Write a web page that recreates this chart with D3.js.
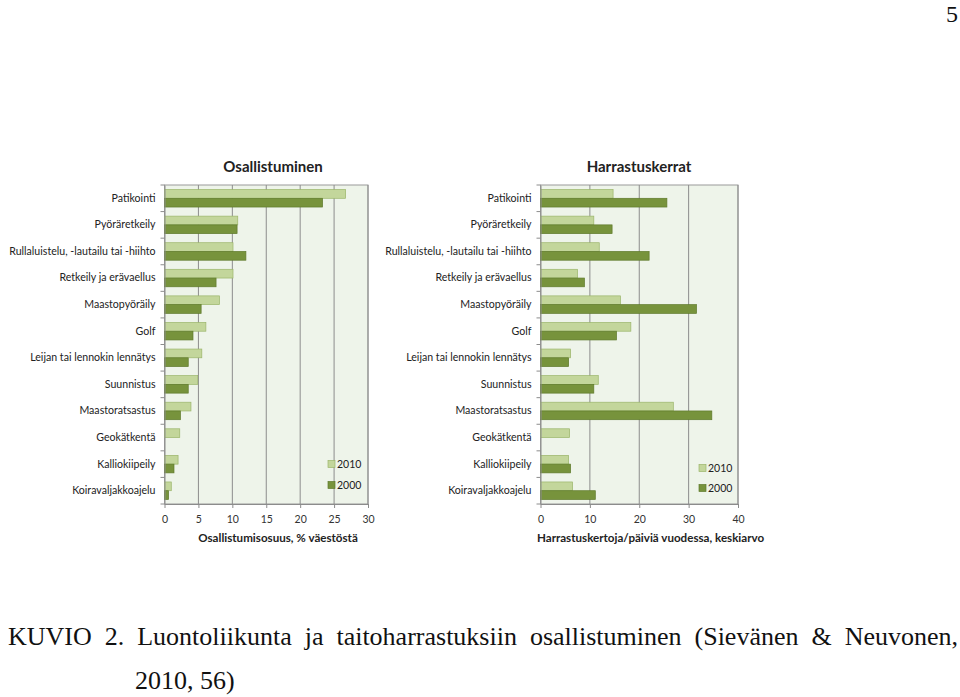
<!DOCTYPE html>
<html><head><meta charset="utf-8">
<script src="https://cdn.jsdelivr.net/npm/d3@7"></script>
<style>body{margin:0;background:#fff}svg{display:block}</style>
</head><body>
<script>
const categories = ["Patikointi","Pyöräretkeily","Rullaluistelu, -lautailu tai -hiihto","Retkeily ja erävaellus","Maastopyöräily","Golf","Leijan tai lennokin lennätys","Suunnistus","Maastoratsastus","Geokätkentä","Kalliokiipeily","Koiravaljakkoajelu"];
const series = ["2010","2000"];
const osallistuminen2010 = [26.7,10.8,10.1,10.1,8.1,6.1,5.5,4.9,3.9,2.25,2.0,1.0];
const osallistuminen2000 = [23.3,10.7,12.0,7.6,5.4,4.2,3.5,3.5,2.35,null,1.4,0.6];
const harrastus2010 = [14.7,10.8,11.9,7.5,16.2,18.3,6.1,11.7,26.9,5.9,5.7,6.5];
const harrastus2000 = [25.6,14.5,22.0,8.9,31.6,15.4,5.7,10.8,34.7,null,6.1,11.1];
const leftTicks = [0,5,10,15,20,25,30];
const rightTicks = [0,10,20,30,40];
const captionLine1 = "KUVIO 2. Luontoliikunta ja taitoharrastuksiin osallistuminen (Sievänen & Neuvonen,";
const captionLine2 = "2010, 56)";

const W=960,H=697;
const svg=d3.select("body").append("svg").attr("width",W).attr("height",H);
const font="Lato, 'Open Sans', sans-serif";
const colors={"2010":"#c3d69b","2000":"#77933c"};
const strokes={"2010":"#9bb56a","2000":"#5f7a2c"};

function chart(o){
  const g=svg.append("g");
  const x=d3.scaleLinear().domain(o.domain).range([o.x0,o.x1]);
  const y=d3.scaleBand().domain(categories).range([o.y0,o.y1]);
  const y2=d3.scaleBand().domain(series).range([0,y.bandwidth()]).paddingOuter(0.52).paddingInner(0);
  g.append("rect").attr("x",o.x0).attr("y",o.y0).attr("width",o.x1-o.x0).attr("height",o.y1-o.y0)
    .attr("fill","#eef4ea").attr("stroke","#9a9a9a").attr("stroke-width",1);
  g.selectAll(".grid").data(o.ticks.slice(1)).join("line")
    .attr("x1",d=>x(d)).attr("x2",d=>x(d)).attr("y1",o.y0).attr("y2",o.y1)
    .attr("stroke","#8c8c8c").attr("stroke-width",1);
  const data=[];
  categories.forEach((c,i)=>{
    if(o.v2010[i]!=null) data.push({c,s:"2010",v:o.v2010[i]});
    if(o.v2000[i]!=null) data.push({c,s:"2000",v:o.v2000[i]});
  });
  g.selectAll(".bar").data(data).join("rect")
    .attr("x",x(0)).attr("y",d=>y(d.c)+y2(d.s)).attr("width",d=>x(d.v)-x(0)).attr("height",y2.bandwidth())
    .attr("fill",d=>colors[d.s]).attr("stroke",d=>strokes[d.s]).attr("stroke-width",0.7);
  const xa=g.append("g").attr("transform",`translate(0,${o.y1})`)
    .call(d3.axisBottom(x).tickValues(o.ticks).tickSize(4).tickSizeOuter(0));
  xa.select(".domain").attr("stroke","#8c8c8c");
  xa.selectAll(".tick line").attr("stroke","#8c8c8c");
  xa.selectAll("text").attr("font-family",font).attr("font-size",10.5).attr("fill","#333").attr("dy","1.15em");
  const ya=g.append("g").attr("transform",`translate(${o.x0},0)`)
    .call(d3.axisLeft(y).tickSize(0).tickPadding(9));
  ya.select(".domain").attr("stroke","#8c8c8c");
  ya.selectAll("text").attr("font-family",font).attr("font-size",10.6).attr("fill","#222");
  g.selectAll(".ytick").data(d3.range(categories.length+1)).join("line")
    .attr("x1",o.x0-4).attr("x2",o.x0).attr("y1",i=>o.y0+i*y.step()).attr("y2",i=>o.y0+i*y.step())
    .attr("stroke","#8c8c8c");
  g.append("text").attr("x",o.titleX).attr("y",171.5).attr("text-anchor","middle")
    .attr("font-family",font).attr("font-weight","bold").attr("font-size",15).attr("fill","#222").text(o.title);
  g.append("text").attr("x",o.axTitleX).attr("y",542).attr("text-anchor",o.axAnchor)
    .attr("font-family",font).attr("font-weight","bold").attr("font-size",11.6).attr("fill","#222").text(o.axTitle);
  const lg=g.append("g");
  series.forEach((s,i)=>{
    lg.append("rect").attr("x",o.legX).attr("y",o.legY+i*o.legStep-3.5).attr("width",7).attr("height",7)
      .attr("fill",colors[s]).attr("stroke",strokes[s]).attr("stroke-width",0.7);
    lg.append("text").attr("x",o.legX+9).attr("y",o.legY+i*o.legStep).attr("dy","0.35em")
      .attr("font-family",font).attr("font-size",10.5).attr("fill","#222").text(s);
  });
}

chart({domain:[0,30],ticks:leftTicks,x0:164.5,x1:368,y0:185,y1:504,v2010:osallistuminen2010,v2000:osallistuminen2000,
  title:"Osallistuminen",titleX:273,axTitle:"Osallistumisosuus, % väestöstä",axTitleX:278,axAnchor:"middle",
  legX:328,legY:464,legStep:21});
chart({domain:[0,40],ticks:rightTicks,x0:540.5,x1:738,y0:185,y1:504,v2010:harrastus2010,v2000:harrastus2000,
  title:"Harrastuskerrat",titleX:639,axTitle:"Harrastuskertoja/päiviä vuodessa, keskiarvo",axTitleX:537,axAnchor:"start",
  legX:699,legY:468,legStep:20});

const serif="'Liberation Serif','Times New Roman',serif";
svg.append("text").attr("x",958).attr("y",22).attr("text-anchor","end")
  .attr("font-family",serif).attr("font-size",24).attr("fill","#111").text("5");

const capSize=26, capX0=8, capX1=958;
const words=captionLine1.split(" ");
const wg=svg.append("g").attr("transform","translate(0,645)");
const wt=wg.selectAll("text").data(words).join("text")
  .attr("font-family",serif).attr("font-size",capSize).attr("fill","#111").text(d=>d);
const widths=[]; wt.each(function(){widths.push(this.getComputedTextLength());});
const gap=Math.max(4,(capX1-capX0-d3.sum(widths))/(words.length-1));
let cx=capX0;
wt.attr("x",(d,i)=>{const v=cx; cx+=widths[i]+gap; return v;});
svg.append("text").attr("x",135).attr("y",689)
  .attr("font-family",serif).attr("font-size",capSize).attr("fill","#111").text(captionLine2);
</script>
</body></html>
